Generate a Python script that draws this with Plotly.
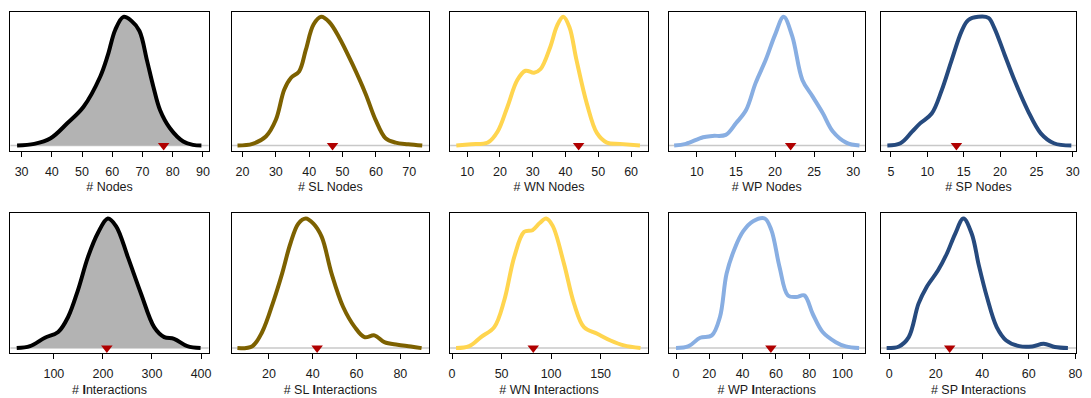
import plotly.graph_objects as go

# ---------------- data (density curves, % of peak) ----------------
titles = ["# Nodes", "# SL Nodes", "# WN Nodes", "# WP Nodes", "# SP Nodes",
          "# <b>I</b>nteractions", "# SL <b>I</b>nteractions", "# WN <b>I</b>nteractions",
          "# WP <b>I</b>nteractions", "# SP <b>I</b>nteractions"]

nodes_x = [28.5, 34.2, 39.6, 45.1, 50.5, 56.0, 58.5, 61.0, 63.7, 66.3, 69.0, 71.5, 73.6, 75.8, 79.1, 83.5, 86.7, 89.5]
nodes_y = [0, 1.3, 5.7, 17.3, 30.2, 53.5, 70.0, 90.0, 100, 97.0, 89.0, 66.0, 45.7, 27.6, 13.4, 3.1, 0.5, 0]

sl_nodes_x = [18.5, 23, 27, 30, 32.5, 34.5, 37, 39, 41.3, 43.6, 46.0, 48.9, 52.9, 56.9, 59.9, 62.9, 65.9, 69.7, 73.9]
sl_nodes_y = [0, 1.3, 7.0, 20, 43.4, 52.5, 57.7, 74.5, 94.0, 100, 96.0, 84.4, 63.6, 40.3, 20, 5.7, 2.3, 1.0, 0]

wn_nodes_x = [6.7, 11.2, 16.3, 19.3, 22.3, 25.3, 27.8, 30.4, 32.4, 35.4, 37.4, 39.3, 41.2, 43.3, 46.5, 49.6, 52.6, 56.6, 62.7]
wn_nodes_y = [0, 1.0, 2.3, 10.9, 30.2, 50.9, 58.1, 56.6, 59.5, 77.0, 93.0, 100, 92.0, 67.0, 32.6, 9.6, 2.3, 1.3, 0]

wp_nodes_x = [7.1, 8.6, 10.8, 12.0, 13.7, 15, 16.3, 17.5, 18.8, 20.0, 21.1, 22.2, 23.5, 24.8, 26.1, 27.4, 29.1, 30.8]
wp_nodes_y = [0, 1.3, 6.5, 7.5, 8.3, 17.3, 27.6, 48.3, 66.4, 86.0, 100, 85.0, 51.0, 38.2, 25.3, 10.9, 2.3, 0]

sp_nodes_x = [4.5, 6.3, 7.9, 9.0, 10.6, 11.95, 13.3, 14.7, 15.6, 17, 18.4, 19.2, 20.6, 22, 23.8, 25.6, 27.4, 29.8]
sp_nodes_y = [0, 1.8, 10.8, 17.2, 24.9, 42.6, 65.6, 88.7, 97.4, 100, 99.2, 91.5, 71.0, 50.5, 27.4, 9.5, 1.8, 0]

inter_x = [24.3, 51.4, 81.8, 108.8, 129, 149, 169.6, 190, 210, 227, 250.7, 277.7, 304.7, 325, 345, 372, 399]
inter_y = [0, 1.5, 8, 12.4, 24, 44.6, 70.4, 89.0, 100, 94.0, 70.4, 42, 16, 8.5, 7.2, 1.5, 0]

sl_inter_x = [5.6, 12.4, 16.9, 22.2, 26, 29.8, 33.4, 36.8, 40.3, 44.1, 48.6, 53.9, 59.2, 63.6, 68.2, 72.7, 78.7, 84.8, 89.7]
sl_inter_y = [0, 1.5, 12.4, 36.9, 57.5, 80.7, 96.0, 100, 96.0, 85.8, 57.5, 31.7, 16.2, 8.5, 9.8, 4.6, 2.6, 1.3, 0]

wn_inter_x = [4, 17.4, 29.2, 42.6, 52.7, 62.8, 72.8, 81.2, 88.5, 95.0, 101.5, 113, 123.2, 133.2, 146.6, 160, 173.5, 190.3]
wn_inter_y = [0, 1.5, 8.5, 16.2, 36.9, 70.4, 89.7, 91, 96.5, 100, 94.5, 65.2, 34.3, 16.2, 11.1, 5.9, 2.1, 0]

wp_inter_x = [0, 7.6, 14.5, 21.5, 26.4, 30.4, 35.4, 40.4, 46.3, 53.3, 57.3, 62.2, 67.2, 72.2, 77.1, 82.1, 88.1, 96, 102, 110]
wp_inter_y = [0, 1.5, 8, 9.8, 24, 57.5, 77.3, 90.2, 97.9, 100, 91, 62.6, 40.7, 39.4, 40.7, 26.5, 12.4, 4.6, 1.3, 0]

sp_inter_x = [-1.1, 4.2, 8.4, 12.6, 16.1, 21, 24.8, 28.3, 31.9, 35.5, 38.5, 42, 46.2, 50.3, 55.9, 61.5, 66.4, 71.2, 76.8]
sp_inter_y = [0, 1.3, 8.5, 34.3, 47.2, 60, 73.0, 88.0, 100, 88.0, 64.0, 39.4, 16.2, 5.9, 1.5, 1.3, 3.4, 0.8, 0]

observed = [77, 47, 44, 22, 14, 208, 42, 82, 57, 26]

x_ranges = [[26.3, 91.9], [16.7, 76.0], [4.8, 65.1], [6.4, 31.5], [3.6, 30.45],
            [11.5, 415.5], [2.9, 93.2], [-2.0, 197.7], [-4.4, 113.5], [-3.6, 80.3]]
tick0s = [30, 20, 10, 10, 5, 100, 20, 0, 0, 0]
dticks = [10, 10, 10, 5, 5, 100, 20, 50, 20, 20]

curves = [(nodes_x, nodes_y), (sl_nodes_x, sl_nodes_y), (wn_nodes_x, wn_nodes_y),
          (wp_nodes_x, wp_nodes_y), (sp_nodes_x, sp_nodes_y),
          (inter_x, inter_y), (sl_inter_x, sl_inter_y), (wn_inter_x, wn_inter_y),
          (wp_inter_x, wp_inter_y), (sp_inter_x, sp_inter_y)]

colors = ["#000000", "#7d6100", "#ffd54f", "#88aee2", "#264a7e"] * 2
filled = [True, False, False, False, False] * 2

# ---------------- layout geometry ----------------
W, H = 1091, 398
col_px = [(9.5, 209), (232, 431), (452, 651), (672, 869.5), (885.5, 1082)]
row_px = [(11.7, 150.7), (213.3, 353.3)]

fig = go.Figure()
layout = dict(width=W, height=H, margin=dict(l=0, r=0, t=0, b=0),
              paper_bgcolor="white", plot_bgcolor="white", showlegend=False,
              font=dict(family="Liberation Sans, Arial, sans-serif", color="#1a1a1a", size=12))
shapes = []

for i in range(10):
    r, c = divmod(i, 5)
    ax = "" if i == 0 else str(i + 1)
    xa, ya = "x" + ax, "y" + ax
    cx, cy = curves[i]
    fig.add_trace(go.Scatter(
        x=cx, y=cy, xaxis=xa, yaxis=ya, mode="lines",
        line=dict(color=colors[i], width=4, shape="spline", smoothing=1.0),
        fill="tozeroy" if filled[i] else None,
        fillcolor="#b3b3b3", hoverinfo="skip"))
    fig.add_trace(go.Scatter(
        x=[observed[i]], y=[0], xaxis=xa, yaxis=ya, mode="markers",
        marker=dict(symbol="triangle-down", size=10, color="#b00000", line=dict(width=0))))
    shapes.append(dict(type="line", xref=xa + " domain", yref=ya, x0=0, x1=1, y0=0, y1=0,
                       line=dict(color="#c8c8c8", width=1.5), layer="below"))
    x0p, x1p = col_px[c]
    y0p, y1p = row_px[r]
    layout["xaxis" + ax] = dict(
        domain=[x0p / W, x1p / W], range=x_ranges[i], anchor=ya,
        showline=True, mirror=True, linecolor="black", linewidth=1,
        ticks="outside", ticklen=5, tickcolor="black", tickwidth=1,
        tick0=tick0s[i], dtick=dticks[i], showgrid=False, zeroline=False,
        ticklabelstandoff=4,
        tickfont=dict(size=12.5, color="#1a1a1a"),
        title=dict(text=titles[i], font=dict(size=12.5, color="#1a1a1a"), standoff=4))
    layout["yaxis" + ax] = dict(
        domain=[1 - y1p / H, 1 - y0p / H], range=[-4, 104], anchor=xa,
        showline=True, mirror=True, linecolor="black", linewidth=1,
        showticklabels=False, ticks="", showgrid=False, zeroline=False)

layout["shapes"] = shapes
fig.update_layout(**layout)
fig.write_html("out.html")
